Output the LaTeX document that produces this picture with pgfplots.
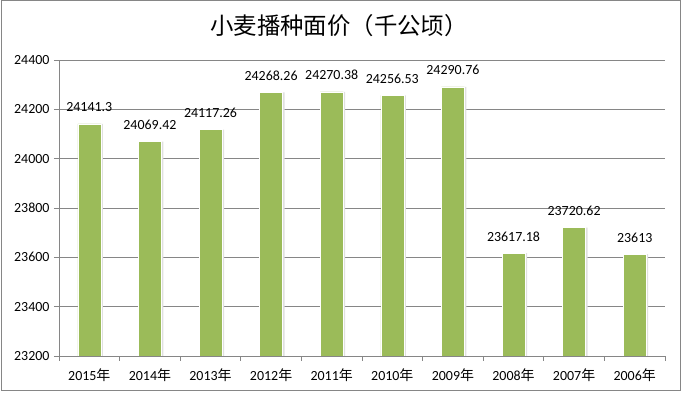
\documentclass[border=0pt]{standalone}
\usepackage{fontspec}
\setmainfont{Carlito}
\newfontfamily\cjk{Noto Sans CJK SC}
\usepackage{pgfplots}
\usepackage{pgfplotstable}
\pgfplotsset{compat=1.18}
\definecolor{bargreen}{HTML}{9BBB59}
\definecolor{gridgray}{HTML}{868686}
\pgfplotstableread{
x y lab
0 24141.3  24141.3
1 24069.42 24069.42
2 24117.26 24117.26
3 24268.26 24268.26
4 24270.38 24270.38
5 24256.53 24256.53
6 24290.76 24290.76
7 23617.18 23617.18
8 23720.62 23720.62
9 23613    23613
}\wheat
\begin{document}
\begin{tikzpicture}
\useasboundingbox (0bp,0bp) rectangle (682bp,395bp);
\draw[gridgray, line width=1bp] (1bp,4bp) rectangle (680bp,394bp);
\node[font=\cjk\fontsize{23.5}{28}\selectfont] at (339bp,369bp) {小麦播种面价（千公顷）};
\begin{axis}[
  at={(59bp,39bp)}, anchor=south west,
  scale only axis, width=606bp, height=296bp,
  xmin=-0.5, xmax=9.5, ymin=23200, ymax=24400,
  ytick={23200,23400,...,24400},
  scaled y ticks=false,
  xtick={0,...,9},
  xticklabels={2015{\cjk 年},2014{\cjk 年},2013{\cjk 年},2012{\cjk 年},2011{\cjk 年},2010{\cjk 年},2009{\cjk 年},2008{\cjk 年},2007{\cjk 年},2006{\cjk 年}},
  minor xtick={-0.5,0.5,...,9.5},
  major x tick style={draw=none},
  minor x tick style={gridgray, line width=0.8bp},
  y tick style={gridgray, line width=0.8bp},
  tick align=outside,
  major tick length=5bp, minor tick length=5bp,
  axis x line*=bottom, axis y line*=left,
  axis line style={gridgray, line width=0.8bp, -},
  ymajorgrids, grid style={gridgray, line width=0.8bp},
  /pgf/number format/assume math mode=true,
  yticklabel={\pgfmathprintnumber[fixed, precision=0, 1000 sep={}]{\tick}},
  ticklabel style={font=\fontsize{14}{16}\selectfont},
  yticklabel style={xshift=-1bp},
  xticklabel style={yshift=-4bp},
  point meta=explicit symbolic,
]
\addplot[ybar, bar width=23bp, bar shift=2bp, fill=black!12, draw=none] table[x=x, y=y] {\wheat};
\addplot[ybar, bar width=23bp, fill=bargreen, draw=white, line width=0.6bp,
  nodes near coords,
  every node near coord/.append style={font=\fontsize{14}{16}\selectfont, anchor=base, inner sep=0pt, yshift=12bp, text=black}] table[x=x, y=y, meta=lab] {\wheat};
\end{axis}
\end{tikzpicture}
\end{document}
